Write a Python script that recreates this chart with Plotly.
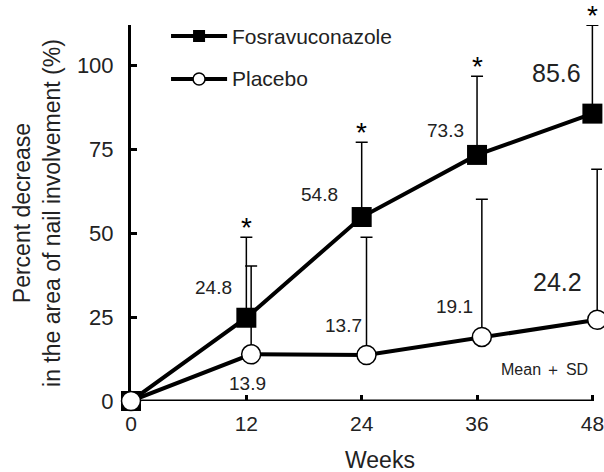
import plotly.graph_objects as go

# ---- data ----
weeks = [0, 12, 24, 36, 48]
fosra_mean = [0, 24.8, 54.8, 73.3, 85.6]
fosra_sd = [0, 24.0, 22.3, 23.4, 26.3]
placebo_mean = [0, 13.9, 13.7, 19.1, 24.2]
placebo_sd = [0, 26.3, 35.1, 41.0, 44.8]
significant = [False, True, True, True, True]
x_ticks = [0, 12, 24, 36, 48]
y_ticks = [0, 25, 50, 75, 100]

FONT = "Liberation Sans, Arial, Helvetica, sans-serif"
W, H = 604, 472
X_MAX = 49
ML, MT, MB = 131, 25, 71
PW = (592 - 131) * X_MAX / 48
MR = W - ML - PW
PH = H - MT - MB

def px(xp):
    return (xp - ML) / PW

def py(yp):
    return (H - MB - yp) / PH

dodge = 0.5
placebo_x = [w + (dodge if w > 0 else 0) for w in weeks]

fig = go.Figure()
fig.add_trace(go.Scatter(
    x=weeks, y=fosra_mean, mode="lines+markers", name="Fosravuconazole",
    line=dict(color="black", width=4),
    marker=dict(symbol="square", size=20, color="black", line=dict(width=0)),
    error_y=dict(type="data", symmetric=False, array=fosra_sd,
                 arrayminus=[0] * len(weeks), color="black", thickness=1.5, width=6),
    cliponaxis=False, showlegend=False))
fig.add_trace(go.Scatter(
    x=placebo_x, y=placebo_mean, mode="lines+markers", name="Placebo",
    line=dict(color="black", width=4),
    marker=dict(symbol="circle", size=19, color="white", line=dict(width=1.5, color="black")),
    error_y=dict(type="data", symmetric=False, array=placebo_sd,
                 arrayminus=[0] * len(weeks), color="black", thickness=1.5, width=6),
    cliponaxis=False, showlegend=False))

ann = []
# asterisks
for w, m, s, sig in zip(weeks, fosra_mean, fosra_sd, significant):
    if sig:
        ann.append(dict(x=w, y=m + s, text="*", showarrow=False, xref="x", yref="y",
                        xanchor="center", yanchor="middle", yshift=10,
                        font=dict(size=28, color="black", family=FONT)))

# value labels (offsets in pixels)
fosra_off = [None, (-33, 30, 19), (-42, 23, 19), (-32, 24, 19), (-36, 41, 25)]
placebo_off = [None, (-4, -29, 19), (-23, 30, 19), (-27, 30, 19), (-40, 38, 25)]
for w, m, off in zip(weeks, fosra_mean, fosra_off):
    if off:
        ann.append(dict(x=w, y=m, text=f"{m:.1f}", showarrow=False, xshift=off[0], yshift=off[1],
                        xanchor="center", yanchor="middle",
                        font=dict(size=off[2], color="#222", family=FONT)))
for w, m, off in zip(placebo_x, placebo_mean, placebo_off):
    if off:
        ann.append(dict(x=w, y=m, text=f"{m:.1f}", showarrow=False, xshift=off[0], yshift=off[1],
                        xanchor="center", yanchor="middle",
                        font=dict(size=off[2], color="#222", family=FONT)))

ann.append(dict(x=px(544), y=py(369), xref="paper", yref="paper", text="Mean \uff0b SD",
                xanchor="center", yanchor="middle",
                showarrow=False, font=dict(size=16, color="#222", family=FONT)))

# legend text
ann.append(dict(x=px(230), y=py(36), xref="paper", yref="paper", text="Fosravuconazole",
                xanchor="left", yanchor="middle", showarrow=False,
                font=dict(size=21, color="#222", family=FONT)))
ann.append(dict(x=px(230), y=py(79), xref="paper", yref="paper", text="Placebo",
                xanchor="left", yanchor="middle", showarrow=False,
                font=dict(size=21, color="#222", family=FONT)))

# axis titles
ann.append(dict(x=px(37), y=py(213), xref="paper", yref="paper",
                text="Percent decrease<br>in the area of nail involvement (%)",
                xanchor="center", yanchor="middle",
                textangle=-90, showarrow=False, font=dict(size=23, color="#222", family=FONT)))
ann.append(dict(x=px(380), y=py(460), xref="paper", yref="paper", text="Weeks",
                xanchor="center", yanchor="middle",
                showarrow=False, font=dict(size=23, color="#222", family=FONT)))

shapes = [
    # x axis line (ends at last tick)
    dict(type="line", xref="x", yref="y", x0=x_ticks[0], x1=x_ticks[-1], y0=0, y1=0,
         line=dict(color="black", width=3), layer="below"),
    # legend
    dict(type="line", xref="paper", yref="paper", x0=px(171), x1=px(227), y0=py(36), y1=py(36),
         line=dict(color="black", width=4)),
    dict(type="rect", xref="paper", yref="paper", x0=px(193), x1=px(205), y0=py(30), y1=py(42),
         fillcolor="black", line=dict(width=0)),
    dict(type="line", xref="paper", yref="paper", x0=px(171), x1=px(227), y0=py(79), y1=py(79),
         line=dict(color="black", width=4)),
    dict(type="circle", xref="paper", yref="paper", x0=px(193), x1=px(205), y0=py(73), y1=py(85),
         fillcolor="white", line=dict(color="black", width=1.5)),
]

fig.update_layout(
    width=W, height=H, margin=dict(l=ML, r=MR, t=MT, b=MB, autoexpand=False),
    paper_bgcolor="white", plot_bgcolor="white",
    font=dict(family=FONT, color="#222"),
    annotations=ann, shapes=shapes, showlegend=False,
    xaxis=dict(range=[0, X_MAX], tickvals=x_ticks, showline=False,
               ticks="inside", ticklen=6, tickwidth=3, tickcolor="black", showgrid=False,
               zeroline=False, layer="below traces", tickfont=dict(size=21, family=FONT, color="#222"),
               ticklabelstandoff=8, ticklabeloverflow="allow"),
    yaxis=dict(range=[0, 112], tickvals=y_ticks, showline=True, linecolor="black", linewidth=3,
               ticks="inside", ticklen=6, tickwidth=3, tickcolor="black", showgrid=False,
               zeroline=False, layer="below traces", tickfont=dict(size=22, family=FONT, color="#222"),
               ticklabelstandoff=10),
)

fig.write_html("out.html", config={"displayModeBar": False},
               post_script="document.body.style.margin='0';document.body.style.overflow='hidden';")
